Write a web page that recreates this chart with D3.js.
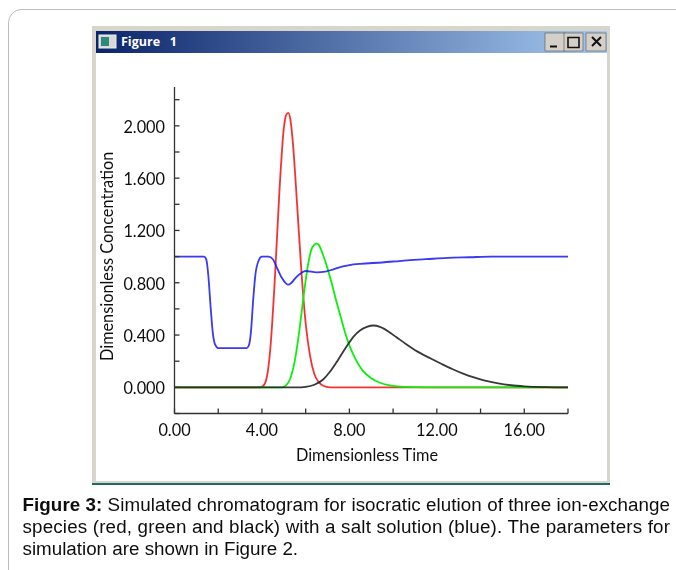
<!DOCTYPE html>
<html><head><meta charset="utf-8">
<script src="https://cdn.jsdelivr.net/npm/d3@7/dist/d3.min.js"></script>
<style>html,body{margin:0;padding:0;background:#fff;overflow:hidden}svg{display:block}</style>
</head><body><svg id="c" width="676" height="570"></svg>
<script>
const xTicks=[0,4,8,12,16];
const xMinorTicks=[2,6,10,14,18];
const yTicks=[0,0.4,0.8,1.2,1.6,2.0];
const yMinorTicks=[-0.2,0.2,0.6,1.0,1.4,1.8,2.2];
const captionBold="Figure 3:";
const captionLines=[
 " Simulated chromatogram for isocratic elution of three ion-exchange",
 "species (red, green and black) with a salt solution (blue). The parameters for",
 "simulation are shown in Figure 2."];
const windowTitle="Figure   1";
const xLabel="Dimensionless Time";
const yLabel="Dimensionless Concentration";
const redT=[0,3.9,4.05,4.2,4.4,4.6,4.8,5.0,5.1,5.2,5.3,5.4,5.6,5.8,6.0,6.2,6.4,6.6,6.8,7.1,18];
const redV=[0,0,0.01,0.06,0.33,0.86,1.5,1.98,2.08,2.1,2.05,1.9,1.42,0.9,0.49,0.24,0.1,0.04,0.012,0,0];
const greenT=[0,4.9,5.1,5.3,5.5,5.7,5.9,6.1,6.3,6.5,6.6,6.8,7.0,7.2,7.4,7.6,7.8,8.05,8.3,8.6,9.0,9.4,9.8,10.2,11,12,18];
const greenV=[0,0,0.015,0.07,0.2,0.42,0.69,0.93,1.07,1.1,1.09,1.01,0.91,0.79,0.66,0.54,0.42,0.3,0.21,0.13,0.07,0.035,0.017,0.008,0.002,0,0];
const blackT=[0,5.6,6,6.4,6.8,7.1,7.5,7.9,8.2,8.5,8.8,9.1,9.4,9.8,10.14,10.6,11.1,11.7,12.2,12.7,13.2,13.7,14.2,14.75,15.4,16,17,18];
const blackV=[0,0,0.004,0.02,0.06,0.117,0.215,0.32,0.39,0.437,0.463,0.473,0.462,0.425,0.385,0.33,0.275,0.222,0.18,0.14,0.105,0.076,0.052,0.032,0.016,0.008,0.002,0];
const blueT=[0,1.35,1.45,1.55,1.65,1.75,1.85,2.0,3.3,3.4,3.5,3.6,3.7,3.85,4.0,4.3,4.5,4.7,4.9,5.1,5.2,5.35,5.55,5.8,6.0,6.5,6.9,7.3,7.7,8.0,8.5,9.5,10.5,11.5,12.5,13.5,14.5,15.5,18];
const blueV=[1,1,0.98,0.85,0.62,0.42,0.33,0.3,0.3,0.32,0.43,0.67,0.86,0.97,1,1,0.98,0.91,0.84,0.795,0.785,0.8,0.84,0.875,0.89,0.88,0.885,0.905,0.925,0.935,0.945,0.955,0.97,0.98,0.99,0.995,1,1,1];

const svg=d3.select("#c");
const defs=svg.append("defs");
const g=defs.append("linearGradient").attr("id","tb");
g.append("stop").attr("offset","0").attr("stop-color","#0a246a");
g.append("stop").attr("offset","1").attr("stop-color","#a6caf0");
defs.append("filter").attr("id","soft").append("feGaussianBlur").attr("stdDeviation",0.35);

svg.append("path").attr("d","M700,9.5H21A13,13 0 0 0 8.5,22.5V590")
  .attr("fill","none").attr("stroke","#bdbdbd").attr("stroke-width",1);

svg.append("rect").attr("x",92).attr("y",26).attr("width",518).attr("height",458).attr("fill","#d8d5cd");
svg.append("rect").attr("x",92).attr("y",483).attr("width",518).attr("height",2).attr("fill","#1d6a6a");
svg.append("rect").attr("x",96).attr("y",53).attr("width",511).attr("height",428).attr("fill","#fff");
svg.append("rect").attr("x",96).attr("y",31).attr("width",511).attr("height",22).attr("fill","url(#tb)");
svg.append("rect").attr("x",99).attr("y",35).attr("width",17).attr("height",13).attr("fill","#d8d8d8").attr("stroke","#eee");
svg.append("rect").attr("x",101).attr("y",37).attr("width",8).attr("height",9).attr("fill","#2e8a78");
svg.append("text").attr("x",121).attr("y",46).attr("fill","#fff").attr("font-family","'Open Sans',sans-serif")
  .attr("font-weight",700).attr("font-size",12.5).style("white-space","pre").text(windowTitle);
[[545,"min"],[564,"max"],[586,"close"]].forEach(([bx,k])=>{
  const w=k==="max"?19:20;
  svg.append("rect").attr("x",bx).attr("y",33).attr("width",w).attr("height",18).attr("fill","#d4d0c8").attr("stroke","#555").attr("stroke-width",.6);
  const b=svg.append("path").attr("fill","none").attr("stroke","#111").attr("stroke-width",2);
  if(k==="min")b.attr("d",`M${bx+5},46.5h7`);
  if(k==="max")b.attr("d",`M${bx+4},37.5h11v10h-11z`).attr("stroke-width",1.6);
  if(k==="close")b.attr("d",`M${bx+6},37l9,9M${bx+15},37l-9,9`);
});

const x=d3.scaleLinear().domain([0,18]).range([174.5,568]);
const y=d3.scaleLinear().domain([-0.2,2.2]).range([413.5,99.7]);
const chart=svg.append("g").attr("filter","url(#soft)");
const font="Lato,'Open Sans',sans-serif";

const line=d3.line().curve(d3.curveMonotoneX);
const draw=(T,V,c,o)=>chart.append("path")
  .attr("d",line(T.map((t,i)=>[x(t),y(V[i])]))).attr("fill","none").attr("stroke",c).attr("stroke-width",1.8).attr("stroke-opacity",o);
draw(redT,redV,"#f01010",.85);
draw(greenT,greenV,"#10ee10",1);
draw(blackT,blackV,"#222",.9);
draw(blueT,blueV,"#1515f0",.85);

const ax=chart.append("g").attr("stroke","#333").attr("stroke-width",1.3);
ax.append("line").attr("x1",x(0)).attr("x2",x(18)).attr("y1",y(-0.2)).attr("y2",y(-0.2));
ax.append("line").attr("x1",x(0)).attr("x2",x(0)).attr("y1",y(-0.2)).attr("y2",87);
xTicks.concat(xMinorTicks).forEach(t=>ax.append("line").attr("x1",x(t)).attr("x2",x(t)).attr("y1",y(-0.2)).attr("y2",y(-0.2)-5));
yTicks.concat(yMinorTicks).forEach(v=>ax.append("line").attr("x1",x(0)).attr("x2",x(0)+5).attr("y1",y(v)).attr("y2",y(v)));

const tf=d3.format(".2f"), vf=d3.format(".3f");
xTicks.forEach(t=>chart.append("text").attr("x",x(t)).attr("y",436).attr("text-anchor","middle")
  .attr("font-family",font).attr("font-size",16.3).attr("fill","#111").text(tf(t)));
yTicks.forEach(v=>chart.append("text").attr("x",165).attr("y",y(v)+7).attr("text-anchor","end")
  .attr("font-family",font).attr("font-size",16.3).attr("fill","#111").text(vf(v)));
chart.append("text").attr("x",367).attr("y",461).attr("text-anchor","middle").attr("font-family",font).attr("font-size",16.3).attr("fill","#111").text(xLabel);
chart.append("text").attr("transform","translate(113,361) rotate(-90)").attr("font-family",font).attr("font-size",16.3).attr("fill","#111").text(yLabel);

const cap=svg.append("g").attr("filter","url(#soft)").attr("font-family","'Liberation Sans',Arial,sans-serif").attr("font-size",18.8).attr("fill","#111");
const t0=cap.append("text").attr("x",22.5).attr("y",511);
t0.append("tspan").attr("font-weight",700).text(captionBold);
t0.append("tspan").text(captionLines[0]);
cap.append("text").attr("x",22.5).attr("y",533).text(captionLines[1]);
cap.append("text").attr("x",22.5).attr("y",555).text(captionLines[2]);
cap.selectAll("text").each(function(d,i){ if(i<2) d3.select(this).attr("textLength",647.5).attr("lengthAdjust","spacing"); });
</script></body></html>
